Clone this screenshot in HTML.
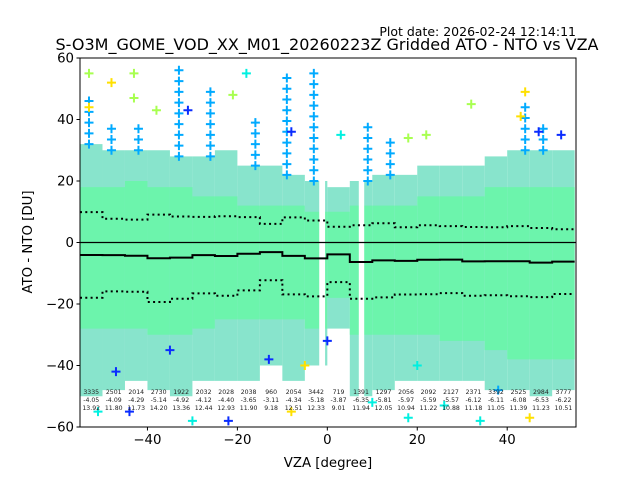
<!DOCTYPE html>
<html><head><meta charset="utf-8">
<style>
html,body{margin:0;padding:0;background:#fff;}
svg{display:block;font-family:"DejaVu Sans","Liberation Sans",sans-serif;}
</style></head>
<body>
<svg id="chart" width="640" height="480" viewBox="0 0 640 480" xmlns="http://www.w3.org/2000/svg">
<text x="576" y="36" font-size="12.5" text-anchor="end">Plot date: 2026-02-24 12:14:11</text>
<text x="327" y="50" font-size="16" text-anchor="middle">S-O3M_GOME_VOD_XX_M01_20260223Z Gridded ATO - NTO vs VZA</text>
<g id="plot"></g>
<text x="328" y="467" font-size="13.3" text-anchor="middle">VZA [degree]</text>
<text transform="translate(32,242) rotate(-90)" font-size="13.3" text-anchor="middle">ATO - NTO [DU]</text>
</svg>
<script>
const binCenters=[-52.5,-47.5,-42.5,-37.5,-32.5,-27.5,-22.5,-17.5,-12.5,-7.5,-2.5,2.5,7.5,12.5,17.5,22.5,27.5,32.5,37.5,42.5,47.5,52.5];
const counts=[3335,2501,2014,2730,1922,2032,2028,2038,960,2054,3442,719,1391,1297,2056,2092,2127,2371,3392,2525,2984,3777];
const means=[-4.05,-4.09,-4.29,-5.14,-4.92,-4.12,-4.40,-3.65,-3.11,-4.34,-5.18,-3.87,-6.35,-5.81,-5.97,-5.59,-5.57,-6.12,-6.11,-6.08,-6.53,-6.22];
const stds=[13.92,11.80,11.73,14.20,13.36,12.44,12.93,11.90,9.18,12.51,12.33,9.01,11.94,12.05,10.94,11.22,10.88,11.18,11.05,11.39,11.23,10.51];
const outTop=[32,30,30,30,28,28,30,25,25,22,20,18,20,22,22,25,25,25,28,30,30,30];
const coreTop=[18,18,20,18,18,15,15,12,12,12,10,10,12,12,12,15,15,15,18,18,18,18];
const coreBot=[-28,-28,-28,-30,-30,-28,-25,-25,-25,-25,-28,-18,-30,-30,-30,-30,-32,-32,-35,-38,-38,-38];
const outBot=[-50,-48,-45,-48,-50,-45,-45,-45,-40,-45,-40,-28,-50,-48,-45,-45,-45,-45,-48,-48,-50,-48];
const gaps=[[-1.8,-0.5],[7,8.2]];
const spikeX=[-53,-48,-42,-33,-26,-16,-9,-3,9,14,44,48];
const spikeTop=[48,38,40,58,50,42,54,58,38,35,45,40];
const outX=[-53,-53,-48,-43,-43,-38,-31,-21,-18,-8,3,18,22,32,44,43,47,52,-51,-44,-30,-22,-8,10,18,34,26,45,-47,-35,-13,0,-5,20,38];
const outY=[55,44,52,55,47,43,43,48,55,36,35,34,35,45,49,41,36,35,-55,-55,-58,-58,-55,-52,-57,-58,-53,-57,-42,-35,-38,-32,-40,-40,-48];
const outC=[3,4,4,3,3,3,0,3,2,0,2,3,3,3,4,4,0,0,2,0,2,0,4,2,2,2,2,4,0,0,0,0,4,2,1];
const yTicks=[60,40,20,0,-20,-40,-60];
const xTicks=[-40,-20,0,20,40];

const palette=['#0a2cff','#00aaff','#00f0e0','#a8ff50','#ffe000'];
const X0=80,X1=576,Y0=58,Y1=427,XMIN=-55,XMAX=55.3,YMIN=-60,YMAX=60;
const sx=v=>X0+(v-XMIN)/(XMAX-XMIN)*(X1-X0);
const sy=v=>Y1-(v-YMIN)/(YMAX-YMIN)*(Y1-Y0);
const NS='http://www.w3.org/2000/svg';
const plot=document.getElementById('plot');
function mk(tag,attrs,parent){const e=document.createElementNS(NS,tag);for(const k in attrs)e.setAttribute(k,attrs[k]);(parent||plot).appendChild(e);return e;}
function plus(x,y,c,g){mk('path',{d:`M${x-4.5},${y}h9M${x},${y-4.5}v9`,stroke:c,'stroke-width':2},g);}

const dens=mk('g',{});


binCenters.forEach((c,i)=>{
  const xa=sx(c-2.5),xb=sx(c+2.5);
  const r1=mk('rect',{x:xa,y:sy(outTop[i]),width:xb-xa,height:sy(outBot[i])-sy(outTop[i]),fill:'#88e4cc'},dens);
  
  
  const r2=mk('rect',{x:xa,y:sy(coreTop[i]),width:xb-xa,height:sy(coreBot[i])-sy(coreTop[i]),fill:'#6cf4ac'},dens);
  
  
});
gaps.forEach(g=>{
  const r=mk('rect',{x:sx(g[0]),y:Y0,width:sx(g[1])-sx(g[0]),height:Y1-Y0,fill:'#fff'},dens);
  
  
});
const sp=mk('g',{});


spikeX.forEach((v,i)=>{
  const bi=Math.min(21,Math.max(0,Math.floor((v+55)/5)));
  for(let d=outTop[bi];d<=spikeTop[i];d+=3.5){plus(sx(v),sy(d),palette[1],sp);}
});
const op=mk('g',{});


outX.forEach((v,i)=>plus(sx(v),sy(outY[i]),palette[outC[i]],op));

const zl=mk('line',{x1:X0,x2:X1,y1:sy(0),y2:sy(0),stroke:'#000','stroke-width':1.3});


let dm='',du='',dl='';
binCenters.forEach((c,i)=>{
  const xa=sx(c-2.5),xb=sx(c+2.5);
  dm+=(i?'L':'M')+xa+','+sy(means[i])+'L'+xb+','+sy(means[i]);
  du+=(i?'L':'M')+xa+','+sy(means[i]+stds[i])+'L'+xb+','+sy(means[i]+stds[i]);
  dl+=(i?'L':'M')+xa+','+sy(means[i]-stds[i])+'L'+xb+','+sy(means[i]-stds[i]);
});
const ml=mk('path',{d:dm,fill:'none',stroke:'#000','stroke-width':2});


const ul=mk('path',{d:du,fill:'none',stroke:'#000','stroke-width':2,'stroke-dasharray':'2,3.3'});


const ll=mk('path',{d:dl,fill:'none',stroke:'#000','stroke-width':2,'stroke-dasharray':'2,3.3'});



const st=mk('g',{'font-size':'6.2','text-anchor':'middle',fill:'#222'});


binCenters.forEach((c,i)=>{
  [[counts[i],394],[means[i].toFixed(2),402],[stds[i].toFixed(2),410]].forEach(p=>{
    const t=mk('text',{x:sx(c),y:p[1]},st);t.textContent=p[0];
    
    
  });
});

const fr=mk('rect',{x:X0,y:Y0,width:X1-X0,height:Y1-Y0,fill:'none',stroke:'#000','stroke-width':1});


const ax=mk('g',{'font-size':'13.3',fill:'#000'});


yTicks.forEach(v=>{
  const y=sy(v);
  const l=mk('line',{x1:X0-3.5,x2:X0,y1:y,y2:y,stroke:'#000'},ax);
  
  
  const t=mk('text',{x:X0-6,y:y+4.6,'text-anchor':'end'},ax);t.textContent=v===0?'0':(v<0?'\u2212'+(-v):v);
  
  
});
xTicks.forEach(v=>{
  const x=sx(v);
  const l=mk('line',{x1:x,x2:x,y1:Y1,y2:Y1+3.5,stroke:'#000'},ax);
  
  
  const t=mk('text',{x:x,y:Y1+17,'text-anchor':'middle'},ax);t.textContent=v===0?'0':(v<0?'\u2212'+(-v):v);
  
  
});
</script>
</body></html>
